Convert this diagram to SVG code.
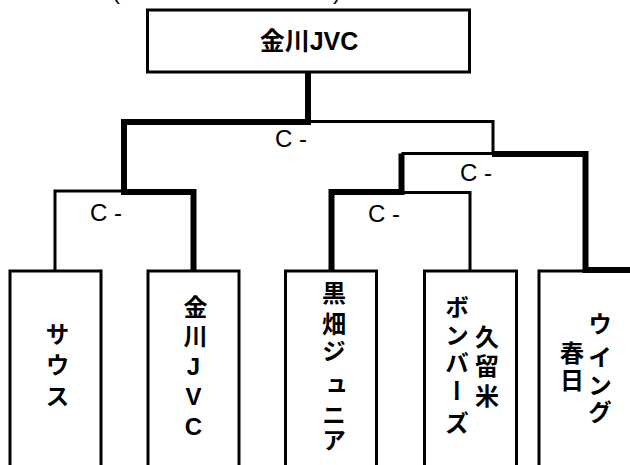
<svg xmlns="http://www.w3.org/2000/svg" width="630" height="465" viewBox="0 0 630 465">
<style>
.box{fill:#fff;stroke:#000;stroke-width:3}
.thick{fill:none;stroke:#000;stroke-width:6;stroke-linejoin:miter}
.thin{fill:none;stroke:#000;stroke-width:3}
.t{font-family:"Liberation Sans","Noto Sans CJK JP",sans-serif;fill:#000}
.b{font-weight:bold}
.lbl{font-size:24px}
.v{font-size:24px;font-weight:bold;writing-mode:vertical-rl;text-orientation:upright}
</style>
<rect width="630" height="465" fill="#fff"/>
<text class="t" font-size="24" y="-1"><tspan x="112">(</tspan><tspan x="333">)</tspan></text>
<g id="root">
<rect class="box" x="147.5" y="10" width="322" height="62"/>
<text class="t b" font-size="25" x="309" y="50" text-anchor="middle">金川JVC</text>
</g>
<g id="leaf1">
<rect class="box" x="10" y="271" width="91" height="250"/>
<text class="t v" x="55.5" y="334 365 396" text-anchor="middle">サウス</text>
</g>
<g id="leaf2">
<rect class="box" x="148" y="271" width="91" height="250"/>
<text class="t v" x="193.5" y="307 336 366 396 426" text-anchor="middle">金川JVC</text>
</g>
<g id="leaf3">
<rect class="box" x="285.5" y="271" width="91" height="250"/>
<text class="t v" x="332" y="293 324 351 386 415 440" text-anchor="middle">黒畑ジュニア</text>
</g>
<g id="leaf4">
<rect class="box" x="424.5" y="271" width="92" height="250"/>
<text class="t v" text-anchor="middle"><tspan x="485" y="337 366 396">久留米</tspan><tspan x="455" y="307 335 363 391 423">ボンバーズ</tspan></text>
</g>
<g id="leaf5">
<rect class="box" x="539" y="271" width="120" height="250"/>
<text class="t v" text-anchor="middle"><tspan x="598" y="324 357 385 412">ウイング</tspan><tspan x="570" y="353 380">春日</tspan></text>
</g>
<g id="connectors">
<path class="thin" d="M308,121.5 H493 V154"/>
<path class="thin" d="M124,191 H55 V271"/>
<path class="thin" d="M401.5,153.5 H493"/>
<path class="thin" d="M401.5,192.5 H470 V271"/>
<path class="thick" d="M308,72 V122 H124 V192 H193.5 V271"/>
<path class="thick" d="M401.5,153.5 V192 H331.5 V271"/>
<path class="thick" d="M492,154 H585.5 V270 H630"/>
</g>
<g id="labels">
<text class="t lbl" x="275" y="147">C -</text>
<text class="t lbl" x="460" y="181">C -</text>
<text class="t lbl" x="368" y="222">C -</text>
<text class="t lbl" x="90" y="221">C -</text>
</g>
</svg>
